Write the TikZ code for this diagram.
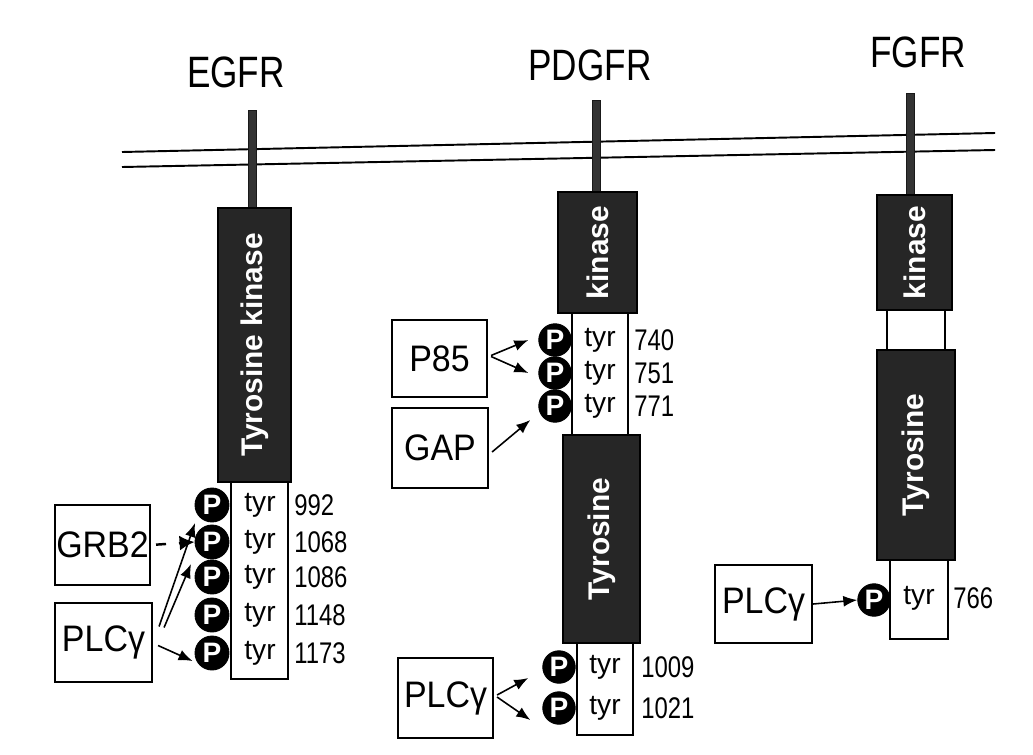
\documentclass[tikz,border=0pt]{standalone}
\usepackage{fontspec}
\setmainfont{Liberation Sans}
\newfontfamily\condf[FakeStretch=0.8]{Liberation Sans}
\newfontfamily\numf[FakeStretch=0.8]{Liberation Sans}
\newfontfamily\boxf[FakeStretch=0.92]{Liberation Sans}
\usetikzlibrary{arrows.meta,calc}
\begin{document}
\begin{tikzpicture}[x=0.02cm,y=-0.02cm,
  rct/.style 2 args={minimum width=#1*0.02cm, minimum height=#2*0.02cm, inner sep=0pt},
  kin/.style={draw=black, fill=black!85, line width=0.8pt},
  stemst/.style={draw=black!90, fill=black!80, line width=0.4pt},
  tyrbox/.style={draw=black, fill=white, line width=1pt},
  protbox/.style={draw=black, fill=white, line width=1.2pt},
  kintext/.style={text=white, font=\bfseries\fontsize{17}{17}\selectfont, rotate=90, inner sep=0pt},
  lbl/.style={font=\condf\fontsize{25}{25}\selectfont},
  tyrt/.style={font=\fontsize{16}{16}\selectfont, inner sep=0pt},
  numt/.style={font=\numf\fontsize{17}{17}\selectfont, anchor=west, inner sep=0pt},
  boxt/.style={font=\boxf\fontsize{21}{21}\selectfont},
  pc/.style={circle, fill=black, draw=black, line width=0.5pt, text=white,
    font=\bfseries\fontsize{16}{16}\selectfont, inner sep=0pt, minimum size=0.68cm},
  pcs/.style={pc, minimum size=0.65cm},
  arr/.style={line width=0.9pt, -{Latex[length=0.28cm,width=0.22cm]}},
  memb/.style={line width=1.1pt}
]
\useasboundingbox (0,0) rectangle (1033,754);
\fill[white] (0,0) rectangle (1033,754);

% membrane
\draw[memb] (122,152) -- (995,133);
\draw[memb] (122,167) -- (995,150);

% ================= EGFR =================
\node[lbl] (egfrlbl) at (236,72) {EGFR};
\node[stemst, rct={8}{100}] (es) at (252,160) {};
\node[kin, rct={73}{274}] (ek) at (254.5,345) {};
\node[kintext] (ekt) at (ek) {Tyrosine kinase};
\node[tyrbox, rct={57}{197}] (et) at (259.5,580.5) {};
\foreach \y/\n/\k in {505/992/1,542/1068/2,577/1086/3,615/1148/4,653/1173/5}{
  \node[tyrt] (etyr\k) at (260,\y) {tyr};
  \node[numt] (enum\k) at (294,\y) {\n};
  \node[pc] (ep\k) at (212,\y) {P};
}
\node[protbox, rct={95}{80}, boxt] (grb) at (102.5,545) {GRB2};
\node[protbox, rct={97}{79}, boxt] (eplc) at (103.5,642.5) {PLCγ};
\draw[line width=1.4pt, shorten <=0.1cm, dash pattern=on 0.2cm off 0.26cm,
      -{Latex[length=0.3cm,width=0.3cm]}] (grb.east) -- (ep2.west);
\coordinate (s1) at ($(eplc.east)+(6,-16)$);
\coordinate (s2) at ($(eplc.east)+(11,-15)$);
\coordinate (t1) at ($(ep1)+(-17,18)$);
\coordinate (t2) at ($(ep2)+(-21,22)$);
\draw[arr] (s1) -- (t1);
\draw[arr] (s2) -- (t2);
\draw[arr] ($(eplc.east)+(5,3)$) -- ($(ep5.west)+(-2,8)$);

% ================= PDGFR =================
\node[lbl] (pdlbl) at (590,65) {PDGFR};
\node[stemst, rct={8}{92}] (ps) at (596,146) {};
\node[kin, rct={79}{121}] (pk) at (597.5,252.5) {};
\node[kintext] (pkt) at (pk) {kinase};
\node[tyrbox, rct={56}{122}] (pt1box) at (600,374) {};
\foreach \y/\n/\k in {340/740/1,373/751/2,406/771/3}{
  \node[tyrt] (ptyr\k) at (600,\y) {tyr};
  \node[numt] (pnum\k) at (634,\y) {\n};
  \node[pcs] (pp\k) at (555,\y) {P};
}
\node[kin, rct={77}{208}] (pty) at (601.5,539) {};
\node[kintext] (ptyt) at (pty) {Tyrosine};
\node[tyrbox, rct={56}{92}] (pt2box) at (605,689) {};
\foreach \y/\n/\k in {667/1009/4,708/1021/5}{
  \node[tyrt] (ptyr\k) at (605,\y) {tyr};
  \node[numt] (pnum\k) at (641,\y) {\n};
  \node[pcs] (pp\k) at (559,\y) {P};
}
\node[protbox, rct={95}{77}, boxt] (p85) at (439.5,358.5) {P85};
\node[protbox, rct={96}{80}, boxt] (gap) at (440,448) {GAP};
\node[protbox, rct={95}{80}, boxt] (pplc) at (445.5,698) {PLCγ};
\draw[arr] ($(p85.east)+(3,-3)$) -- ($(pp1.west)+(-10,0)$);
\draw[arr] ($(p85.east)+(3,-2)$) -- ($(pp2.west)+(-10,0)$);
\draw[arr] ($(gap.east)+(3,4)$) -- ($(pp3.west)+(-8,14)$);
\draw[arr] ($(pplc.east)+(3,-3)$) -- ($(pp4.west)+(-14,11)$);
\draw[arr] ($(pplc.east)+(3,-1)$) -- ($(pp5.west)+(-12,12)$);

% ================= FGFR =================
\node[lbl] (fglbl) at (918,52) {FGFR};
\node[stemst, rct={8}{102}] (fs) at (910,144) {};
\node[kin, rct={75}{115}] (fk) at (914.5,252.5) {};
\node[kintext] (fkt) at (fk) {kinase};
\node[tyrbox, rct={58}{40}] (flink) at (916,330) {};
\node[kin, rct={78}{210}] (fty) at (916,455) {};
\node[kintext] (ftyt) at (fty) {Tyrosine};
\node[tyrbox, rct={58}{79}] (ftbox) at (919,599.5) {};
\node[tyrt] (ftyr) at (919,598) {tyr};
\node[numt] (fnum) at (953,598) {766};
\node[pcs] (fp) at (874,600) {P};
\node[protbox, rct={97}{78}, boxt] (fplc) at (763.5,604) {PLCγ};
\draw[arr] (fplc.east) -- (fp.west);
\end{tikzpicture}
\end{document}
